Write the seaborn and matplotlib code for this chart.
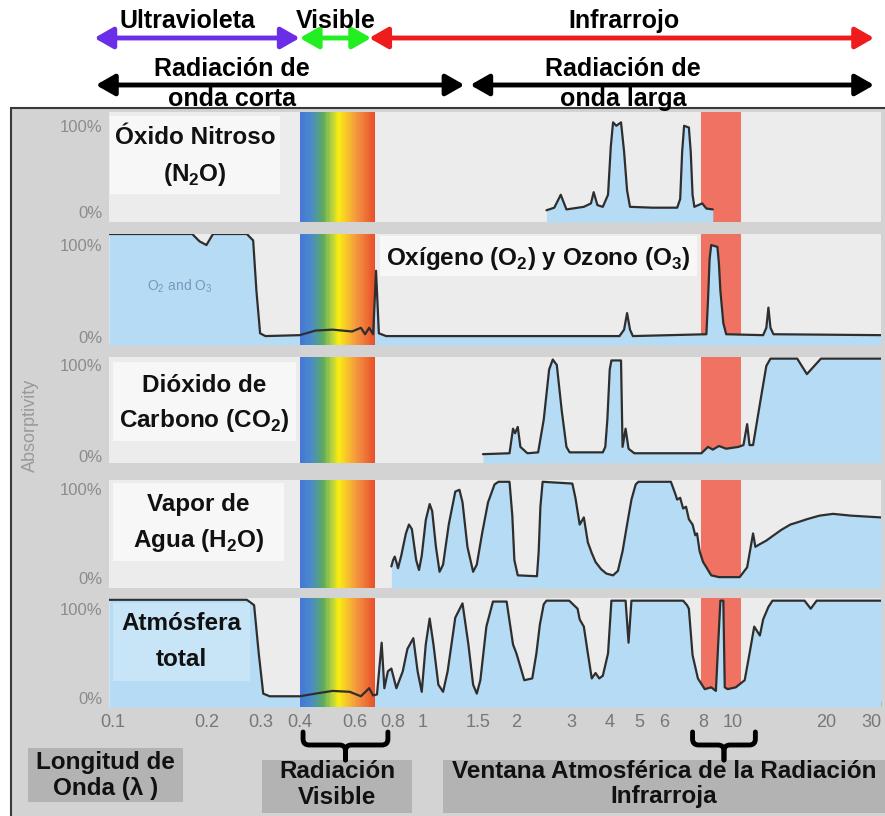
import numpy as np
import matplotlib
matplotlib.use("Agg")
import matplotlib.pyplot as plt
import seaborn as sns
from matplotlib import transforms
from matplotlib.patches import Rectangle, PathPatch
from matplotlib.path import Path
from matplotlib.colors import LinearSegmentedColormap

# Absorptivity curves: wavelength (um) and absorptivity (%)
n2o_wl = [2.5, 2.65, 2.78, 2.9, 3.03, 3.3, 3.48, 3.55, 3.65, 3.8, 3.95, 4.03, 4.1, 4.2, 4.35, 4.45,
          4.55, 4.65, 5.5, 6.6, 6.75, 6.85, 6.95, 7.2, 7.3, 7.4, 7.5, 7.95, 8.2, 8.6]
n2o_abs = [2, 5, 20, 3, 4, 6, 10, 23, 8, 6, 20, 75, 104, 100, 104, 70,
           25, 6, 5, 5, 15, 70, 100, 98, 70, 20, 6, 10, 4, 3]

o2o3_wl = [0.097, 0.18, 0.19, 0.2, 0.21, 0.27, 0.283, 0.29, 0.298, 0.31, 0.4, 0.45, 0.51, 0.59,
           0.63, 0.65, 0.67, 0.69, 0.705, 0.72, 0.76, 4.3, 4.45, 4.55, 4.65, 4.75, 8.2, 8.3, 8.4,
           8.5, 8.9, 9.0, 9.1, 9.3, 9.5, 12.5, 12.8, 13.0, 13.2, 13.5, 30]
o2o3_abs = [112, 112, 104, 100, 112, 112, 105, 50, 4, 1, 2, 7, 8, 6,
            10, 3, 10, 3, 72, 4, 1, 1, 8, 26, 8, 1, 3, 40, 85,
            100, 98, 80, 50, 15, 3, 2, 10, 32, 10, 3, 2]

co2_wl = [1.56, 1.9, 1.95, 1.98, 2.02, 2.06, 2.17, 2.35, 2.45, 2.55, 2.62, 2.7, 2.8, 2.9, 2.97,
          3.8, 3.87, 3.93, 4.0, 4.05, 4.35, 4.4, 4.5, 4.6, 4.8, 7.9, 8.3, 8.6, 9.0, 9.5, 10.4, 10.8,
          11.1, 11.3, 11.6, 12.2, 12.8, 13.2, 16.1, 17.3, 19.2, 30]
co2_abs = [2, 3, 30, 25, 32, 10, 3, 4, 40, 95, 106, 100, 50, 10, 4,
           4, 10, 40, 95, 105, 105, 10, 30, 8, 3, 3, 10, 7, 11, 8, 10, 12,
           35, 12, 12, 57, 99, 107, 107, 90, 107, 107]

h2o_wl = [0.79, 0.80, 0.81, 0.82, 0.83, 0.85, 0.88, 0.9, 0.92, 0.95, 0.97, 0.99, 1.02, 1.05, 1.07,
          1.1, 1.13, 1.16, 1.21, 1.27, 1.31, 1.34, 1.39, 1.45, 1.49, 1.55, 1.62, 1.7, 1.75, 1.9,
          1.94, 1.97, 2.02, 2.33, 2.36, 2.39, 2.43, 3.03, 3.1, 3.2, 3.3, 3.4, 3.5, 3.6, 3.75,
          3.9, 4.1, 4.25, 4.4, 4.55, 4.7, 4.85, 4.95, 6.3, 6.5, 6.6, 6.75, 6.9, 7.05, 7.2, 7.4,
          7.55, 7.65, 7.8, 8.0, 8.2, 8.5, 9.0, 10.5, 11.1, 11.6, 11.8, 12.2, 12.8, 13.4, 14.3,
          15.3, 16.3, 17.3, 19, 21, 24, 30]
h2o_abs = [13, 20, 24, 18, 11, 25, 50, 60, 55, 20, 9, 25, 65, 83, 75,
           35, 7, 15, 60, 97, 99, 85, 35, 7, 15, 50, 85, 105, 108, 108,
           70, 20, 3, 2, 30, 80, 108, 106, 90, 60, 68, 40, 28, 18, 10,
           5, 3, 8, 30, 60, 88, 105, 108, 108, 95, 88, 90, 78, 80, 66, 60,
           48, 50, 30, 18, 12, 3, 1, 1, 12, 50, 35, 38, 42, 47, 54,
           60, 63, 66, 70, 72, 70, 68]

total_wl = [0.097, 0.27, 0.285, 0.295, 0.305, 0.32, 0.4, 0.45, 0.51, 0.58, 0.63, 0.67, 0.69, 0.71,
            0.735, 0.75, 0.77, 0.79, 0.82, 0.86, 0.89, 0.93, 0.96, 0.99, 1.02, 1.05, 1.08, 1.12,
            1.16, 1.2, 1.27, 1.34, 1.4, 1.45, 1.49, 1.53, 1.6, 1.68, 1.86, 1.95, 2.0, 2.08, 2.12,
            2.25, 2.32, 2.38, 2.45, 2.5, 2.96, 3.15, 3.2, 3.3, 3.4, 3.5, 3.6, 3.7, 3.8, 3.95, 4.05,
            4.5, 4.6, 4.7, 6.9, 7.1, 7.2, 7.4, 7.7, 8.1, 8.5, 8.8, 8.95, 9.1, 9.3, 9.4, 9.6,
            10.2, 10.9, 11.3, 11.7, 12.2, 12.5, 13.0, 13.4, 17.0, 17.8, 18.6, 30]
total_abs = [110, 110, 104, 50, 5, 2, 2, 5, 8, 7, 2, 11, 3, 4,
             62, 11, 30, 33, 11, 30, 55, 67, 30, 7, 60, 89, 60, 15,
             7, 30, 90, 106, 60, 15, 5, 20, 80, 108, 108, 60, 50, 30, 20,
             22, 50, 82, 105, 109, 109, 100, 88, 80, 50, 22, 28, 22, 25, 50, 109,
             109, 62, 109, 109, 104, 100, 48, 22, 10, 12, 8, 60, 109, 109, 12, 10,
             12, 20, 50, 80, 70, 88, 102, 109, 109, 100, 109, 109]

xticks = [0.1, 0.2, 0.3, 0.4, 0.6, 0.8, 1, 1.5, 2, 3, 4, 5, 6, 8, 10, 20, 30]
xtick_labels = ["0.1", "0.2", "0.3", "0.4", "0.6", "0.8", "1", "1.5", "2", "3", "4", "5", "6",
                "8", "10", "20", "30"]

visible_band = (0.4, 0.7)
window_band = (7.9, 10.6)

# Theme and fonts
sns.set_theme(style="white")
plt.rcParams["font.family"] = ["Liberation Sans", "DejaVu Sans"]
plt.rcParams["mathtext.fontset"] = "custom"
plt.rcParams["mathtext.rm"] = "Liberation Sans"
plt.rcParams["mathtext.bf"] = "Liberation Sans:bold"

W, H = 885, 816
fig = plt.figure(figsize=(W / 100, H / 100), dpi=100)
fig.patch.set_facecolor("white")


def px_axes(x0, y0, x1, y1):
    return fig.add_axes([x0 / W, 1 - y1 / H, (x1 - x0) / W, (y1 - y0) / H])


# Gray frame behind the panels
bg = px_axes(0, 0, W, H)
bg.set_xlim(0, W)
bg.set_ylim(H, 0)
bg.axis("off")
bg.add_patch(Rectangle((11, 108), W, H, facecolor="#d3d3d3", edgecolor="#3a3a3a", lw=1.5))

rainbow = LinearSegmentedColormap.from_list(
    "rainbow_band",
    [(0.0, "#4677d6"), (0.15, "#4a8cc8"), (0.3, "#5aa860"), (0.42, "#b0d040"),
     (0.52, "#faec10"), (0.62, "#f8c62a"), (0.78, "#f39040"), (1.0, "#e8502a")])

fill_blue = "#b6dbf4"
panels = [
    (n2o_wl, n2o_abs, 112, 222, (-11.6, 116)),
    (o2o3_wl, o2o3_abs, 234, 345, (-8.7, 112)),
    (co2_wl, co2_abs, 357, 463, (-7.7, 108.8)),
    (h2o_wl, h2o_abs, 480, 588, (-11.2, 110)),
    (total_wl, total_abs, 598, 707, (-10, 112)),
]

axes = []
for i, (wl, ab, top, bot, ylim) in enumerate(panels):
    ax = px_axes(109, top, 881, bot)
    ax.set_xscale("log")
    ax.set_xlim(0.097, 30)
    ax.set_ylim(*ylim)
    ax.set_facecolor("#ececec")
    for s in ax.spines.values():
        s.set_visible(False)

    # atmospheric window and visible rainbow
    ax.axvspan(*window_band, color="#f07262", lw=0, zorder=1)
    edges = np.geomspace(visible_band[0], visible_band[1], 61)
    for k in range(60):
        ax.axvspan(edges[k], edges[k + 1], color=rainbow(k / 59), lw=0, zorder=3)

    ax.fill_between(wl, ab, ylim[0], color=fill_blue, lw=0, zorder=2)
    sns.lineplot(x=wl, y=ab, ax=ax, color="#2e2e2e", lw=1.6, estimator=None, sort=False, zorder=4)

    ax.set_xlabel("")
    ax.set_ylabel("")
    ax.set_yticks([0, 100])
    ax.set_yticklabels(["0%", "100%"], color="#8c8c8c", fontsize=12)
    ax.tick_params(axis="y", length=0, pad=5)
    ax.xaxis.set_minor_locator(matplotlib.ticker.NullLocator())
    if i == len(panels) - 1:
        ax.set_xticks(xticks)
        ax.set_xticklabels(xtick_labels, color="#777777", fontsize=13)
        ax.get_xticklabels()[-1].set_ha("right")
        ax.tick_params(axis="x", direction="in", length=4, color="#9a9a9a", pad=5, bottom=True)
    else:
        ax.set_xticks([])
    axes.append(ax)

# Overlay for arrows, boxes and labels
fg = px_axes(0, 0, W, H)
fg.set_xlim(0, W)
fg.set_ylim(H, 0)
fg.axis("off")
wl_trans = transforms.blended_transform_factory(axes[-1].transData, fg.transData)


def arrow(lo, hi, y, color):
    fg.annotate("", xy=(hi, y), xytext=(lo, y), xycoords=wl_trans, textcoords=wl_trans,
                annotation_clip=False,
                arrowprops=dict(arrowstyle="<|-|>,head_length=0.7,head_width=0.4", color=color,
                                lw=3.5, shrinkA=0, shrinkB=0, mutation_scale=16))


arrow(0.087, 0.4, 38, "#6a2ee8")
arrow(0.4, 0.68, 38, "#22ee22")
arrow(0.67, 28.5, 38, "#ee1c1c")
arrow(0.088, 1.36, 85, "black")
arrow(1.42, 28.5, 85, "black")

top_kw = dict(ha="center", va="center", fontsize=18, fontweight="bold", color="black")
fg.text(187, 21, "Ultravioleta", **top_kw)
fg.text(336, 21, "Visible", **top_kw)
fg.text(624, 21, "Infrarrojo", **top_kw)
fg.text(232, 69, "Radiación de", **top_kw)
fg.text(232, 99, "onda corta", **top_kw)
fg.text(623, 69, "Radiación de", **top_kw)
fg.text(623, 99, "onda larga", **top_kw)

fg.text(30, 425, "Absorptivity", rotation=90, ha="center", va="center", fontsize=13, color="#9a9a9a")

# Panel name boxes
lab_kw = dict(ha="center", va="center", fontsize=17.5, fontweight="bold", color="#111111")
boxes = [
    ((110, 116, 280, 194), "#f7f7f7", [(138, "Óxido Nitroso"), (174, r"(N$_\mathbf{2}$O)")]),
    ((380, 236, 697, 276), "#f7f7f7", [(258, r"Oxígeno (O$_\mathbf{2}$) y Ozono (O$_\mathbf{3}$)")]),
    ((113, 362, 296, 441), "#f7f7f7", [(386, "Dióxido de"), (421, r"Carbono (CO$_\mathbf{2}$)")]),
    ((113, 483, 284, 561), "#f7f7f7", [(504, "Vapor de"), (540, r"Agua (H$_\mathbf{2}$O)")]),
    ((113, 603, 250, 681), "#c8e5f8", [(624, "Atmósfera"), (659, "total")]),
]
for (x0, y0, x1, y1), fc, lines in boxes:
    fg.add_patch(Rectangle((x0, y0), x1 - x0, y1 - y0, facecolor=fc, lw=0))
    for y, t in lines:
        fg.text((x0 + x1) / 2, y, t, **lab_kw)

fg.text(180, 286, r"O$_2$ and O$_3$", ha="center", va="center", fontsize=10, color="#7799bb")

# Bottom gray captions
cap_boxes = [
    ((28, 748, 183, 802), [(762, "Longitud de"), (788, "Onda (λ )")]),
    ((262, 760, 412, 813), [(772, "Radiación"), (798, "Visible")]),
    ((443, 760, 885, 813), [(772, "Ventana Atmosférica de la Radiación"), (797, "Infrarroja")]),
]
for (x0, y0, x1, y1), lines in cap_boxes:
    fg.add_patch(Rectangle((x0, y0), x1 - x0, y1 - y0, facecolor="#b3b3b3", lw=0))
    for y, t in lines:
        fg.text((x0 + x1) / 2, y, t, **lab_kw)


# Curly braces under the visible band and the window
def brace(lo, hi, yt=732, ym=745, yb=760, r=6):
    to_px = lambda v: fg.transData.inverted().transform(axes[-1].transData.transform((v, 0)))[0]
    xl, xr = to_px(lo), to_px(hi)
    xm = (xl + xr) / 2
    for xe, sgn in [(xl, 1), (xr, -1)]:
        verts = [(xe, yt), (xe, ym - r), (xe, ym), (xe + sgn * r, ym), (xm - sgn * r, ym),
                 (xm, ym), (xm, ym + r), (xm, yb)]
        codes = [Path.MOVETO, Path.LINETO, Path.CURVE3, Path.CURVE3, Path.LINETO,
                 Path.CURVE3, Path.CURVE3, Path.LINETO]
        fg.add_patch(PathPatch(Path(verts, codes), facecolor="none", edgecolor="black", lw=3.5,
                               capstyle="round", joinstyle="round"))


brace(0.41, 0.77)
brace(7.4, 11.8)

fig.savefig("out.png", dpi=100)
